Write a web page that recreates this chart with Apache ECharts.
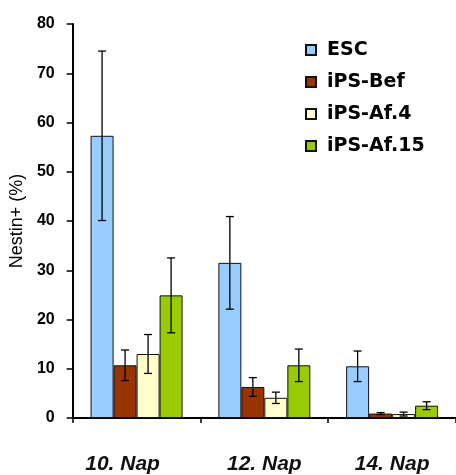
<!DOCTYPE html>
<html><head><meta charset="utf-8">
<script src="https://cdn.jsdelivr.net/npm/echarts@6/dist/echarts.min.js"></script>
<style>html,body{margin:0;padding:0;background:#fff}#c{width:456px;height:475px}</style>
</head><body><div id="c"></div>
<script>
const categories = ['10. Nap', '12. Nap', '14. Nap'];
const seriesNames = ['ESC', 'iPS-Bef', 'iPS-Af.4', 'iPS-Af.15'];
const escValues = [57.3, 31.5, 10.5];
const befValues = [10.7, 6.3, 0.9];
const af4Values = [13.0, 4.1, 0.8];
const af15Values = [24.9, 10.7, 2.5];
const escErr = [17.2, 9.4, 3.1];
const befErr = [3.1, 1.9, 0.2];
const af4Err = [3.95, 1.15, 0.4];
const af15Err = [7.6, 3.3, 0.8];
const yTicks = [0, 10, 20, 30, 40, 50, 60, 70, 80];

const values = [escValues, befValues, af4Values, af15Values];
const errs = [escErr, befErr, af4Err, af15Err];
const colors = ['#99CCFF', '#993300', '#FFFFCC', '#99CC00'];
const catGap = 0.28;
const font = '"Liberation Sans", Arial, sans-serif';

const chart = echarts.init(document.getElementById('c'), null, {renderer: 'canvas'});

const series = [];
seriesNames.forEach((name, i) => {
  series.push({
    name: name, type: 'bar', data: values[i],
    barGap: '0%', barCategoryGap: (catGap * 100) + '%',
    itemStyle: {color: colors[i], borderColor: '#111', borderWidth: 1},
    z: 2
  });
});
seriesNames.forEach((name, i) => {
  series.push({
    type: 'custom', name: name + '_err', z: 5,
    data: values[i].map((v, k) => [k, v - errs[i][k], v + errs[i][k]]),
    renderItem: function (params, api) {
      const k = api.value(0);
      const lo = api.coord([k, api.value(1)]);
      const hi = api.coord([k, api.value(2)]);
      const band = api.size([1, 0])[0];
      const bw = band * (1 - catGap) / 4;
      const x = lo[0] + (i - 1.5) * bw;
      const cap = 4;
      const st = {stroke: '#000', lineWidth: 1.3};
      return {type: 'group', children: [
        {type: 'line', shape: {x1: x, y1: lo[1], x2: x, y2: hi[1]}, style: st},
        {type: 'line', shape: {x1: x - cap, y1: hi[1], x2: x + cap, y2: hi[1]}, style: st},
        {type: 'line', shape: {x1: x - cap, y1: lo[1], x2: x + cap, y2: lo[1]}, style: st}
      ]};
    }
  });
});

const xLabelStyle = {fontFamily: font, fontWeight: 'bold', fontStyle: 'italic', fontSize: 21, color: '#111'};

chart.setOption({
  animation: false,
  backgroundColor: '#fff',
  grid: {left: 71, top: 24, width: 390, bottom: 57, containLabel: false},
  legend: {
    data: seriesNames, orient: 'vertical', left: 300, top: 35,
    itemWidth: 10, itemHeight: 10, itemGap: 12, icon: 'rect',
    textStyle: {fontFamily: '"DejaVu Sans", sans-serif', fontWeight: 'bold', fontSize: 19, color: '#000', lineHeight: 20, padding: [0, 0, 0, 6]}
  },
  xAxis: {
    type: 'category', data: categories,
    axisLine: {lineStyle: {color: '#000', width: 2}},
    axisTick: {show: true, interval: 0, length: 5, lineStyle: {color: '#000', width: 1.5}},
    axisLabel: {
      interval: 0, hideOverlap: false,
      margin: 36, ...xLabelStyle,
      formatter: function (v, idx) { return idx === 0 ? '{s|' + v + '}' : '{n|' + v + '}'; },
      rich: {s: {...xLabelStyle, padding: [0, 28, 0, 0]}, n: {...xLabelStyle}}
    }
  },
  yAxis: {
    type: 'value', min: yTicks[0], max: yTicks[yTicks.length - 1], interval: 10,
    name: 'Nestin+ (%)', nameLocation: 'middle', nameGap: 44, nameRotate: 90,
    nameTextStyle: {fontFamily: font, fontSize: 18, color: '#000'},
    splitLine: {show: false},
    axisLine: {show: true, lineStyle: {color: '#000', width: 2}},
    axisTick: {show: true, length: 6, lineStyle: {color: '#000', width: 1.5}},
    axisLabel: {margin: 18, fontFamily: font, fontWeight: 'bold', fontSize: 16, color: '#000'}
  },
  series: series
});
</script></body></html>
